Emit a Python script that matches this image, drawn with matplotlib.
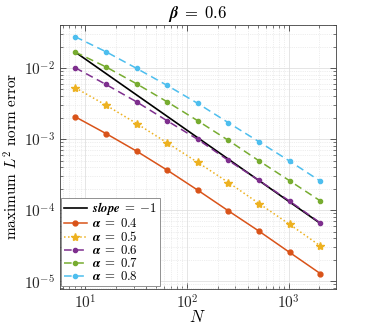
import math
import matplotlib
matplotlib.use("Agg")
import matplotlib.pyplot as plt
from matplotlib.ticker import LogLocator, FuncFormatter, NullFormatter

# data
N = [8, 16, 32, 64, 128, 256, 512, 1024, 2048]
err_04 = [2.06e-3, 1.20e-3, 6.78e-4, 3.66e-4, 1.91e-4, 9.77e-5, 5.06e-5, 2.54e-5, 1.28e-5]
err_05 = [5.28e-3, 3.01e-3, 1.66e-3, 8.87e-4, 4.70e-4, 2.45e-4, 1.24e-4, 6.30e-5, 3.14e-5]
err_06 = [1.01e-2, 5.89e-3, 3.35e-3, 1.81e-3, 9.91e-4, 5.01e-4, 2.62e-4, 1.34e-4, 6.62e-5]
err_07 = [1.68e-2, 1.04e-2, 6.01e-3, 3.35e-3, 1.81e-3, 9.59e-4, 4.94e-4, 2.59e-4, 1.35e-4]
err_08 = [2.76e-2, 1.70e-2, 9.91e-3, 5.70e-3, 3.18e-3, 1.70e-3, 9.16e-4, 4.90e-4, 2.56e-4]
slope_N = [8, 2048]
slope_err = [1.68e-2, 6.5e-5]

alphas = ["0.4", "0.5", "0.6", "0.7", "0.8"]
labels = [r"$\boldsymbol{\alpha}\;=\;\mathbf{%s}$" % a for a in alphas]

plt.rcParams["mathtext.fontset"] = "cm"
plt.rcParams["font.family"] = ["DejaVu Serif"]

fig = plt.figure(figsize=(3.71, 3.27), dpi=100)
ax = fig.add_axes([0.1617, 0.1177, 0.7431, 0.8058])

ax.loglog(slope_N, slope_err, "-", color="k", lw=1.2,
          label=r"$\boldsymbol{slope}\;=\;\mathbf{-1}$")
ax.loglog(N, err_04, "-o", color="#D95319", lw=1.1, ms=3.5, label=labels[0])
ax.loglog(N, err_05, ":*", color="#EDB120", lw=1.1, ms=6, label=labels[1])
ax.loglog(N, err_06, "--o", color="#7E2F8E", lw=1.1, ms=3, dashes=(5, 3), label=labels[2])
ax.loglog(N, err_07, "--o", color="#77AC30", lw=1.1, ms=3, dashes=(5, 3), label=labels[3])
ax.loglog(N, err_08, "--o", color="#4DBEEE", lw=1.1, ms=3, dashes=(5, 3), label=labels[4])

ax.set_xlim(2 ** 2.5, 2 ** 11.5)
ax.set_ylim(7.9e-6, 4.04e-2)

fmt = FuncFormatter(lambda v, p: r"$10^{%d}$" % round(math.log10(v)))
ax.xaxis.set_major_formatter(fmt)
ax.yaxis.set_major_formatter(fmt)
ax.xaxis.set_minor_formatter(NullFormatter())
ax.yaxis.set_minor_formatter(NullFormatter())
ax.xaxis.set_major_locator(LogLocator(base=10, numticks=10))
ax.yaxis.set_major_locator(LogLocator(base=10, numticks=10))

ax.tick_params(which="both", direction="in", top=True, right=True, colors="0.25",
               labelcolor="0.15", labelsize=11)
ax.tick_params(which="major", length=4, width=0.6)
ax.tick_params(which="minor", length=2, width=0.5)
for s in ax.spines.values():
    s.set_color("0.25")
    s.set_linewidth(0.6)

ax.grid(True, which="major", color="0.88", lw=0.6, ls="-")
ax.grid(True, which="minor", color="0.87", lw=0.5, ls=":")
ax.set_axisbelow(True)

ax.set_xlabel(r"$N$", fontsize=12, labelpad=-2)
ax.set_ylabel(r"$\mathrm{maximum}\ L^2\ \mathrm{norm\ error}$", fontsize=11, labelpad=2)
ax.set_title(r"$\boldsymbol{\beta}\;=\;\mathbf{0.6}$", fontsize=12, pad=5)

leg = ax.legend(loc="lower left", bbox_to_anchor=(0.0, 0.005), fontsize=9.2,
                fancybox=False, edgecolor="0.5", framealpha=1, handlelength=1.8,
                handleheight=0.5, handletextpad=0.4, borderpad=0.2, labelspacing=0.0,
                borderaxespad=0.1)
leg.get_frame().set_linewidth(0.6)

fig.savefig("out.png", dpi=100)
